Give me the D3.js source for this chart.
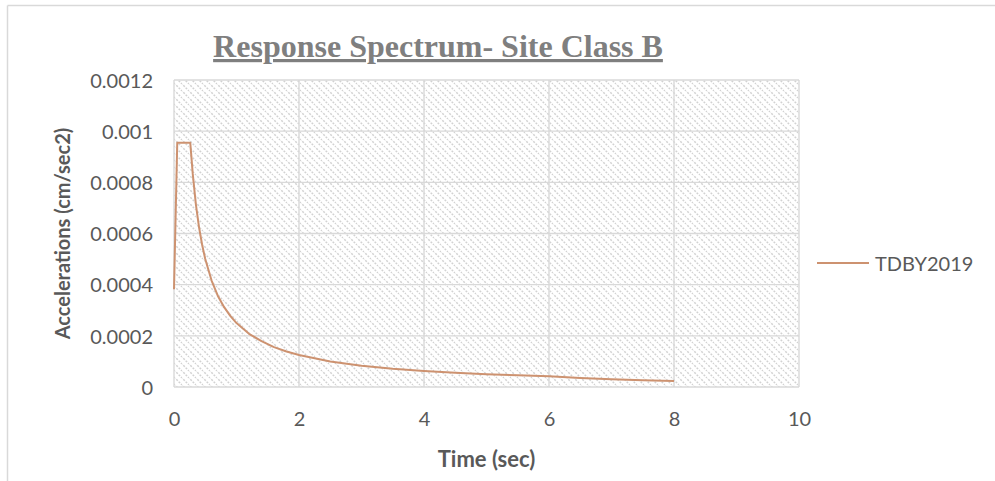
<!DOCTYPE html>
<html>
<head>
<meta charset="utf-8">
<script src="https://cdn.jsdelivr.net/npm/d3@7"></script>
<style>
  html, body { margin: 0; padding: 0; background: #ffffff; }
  svg { display: block; }
</style>
</head>
<body>
<svg id="chart" width="995" height="481"></svg>
<script>
// ---- data ----
const periods = [0, 0.052, 0.26, 0.3, 0.35, 0.4, 0.45, 0.5, 0.6, 0.7, 0.8, 0.9, 1.0,
  1.2, 1.4, 1.6, 1.8, 2.0, 2.5, 3.0, 3.5, 4.0, 4.5, 5.0, 5.5, 6.0, 6.5, 7.0, 7.5, 8.0];
const accels = [0.000382, 0.000955, 0.000955, 0.000833, 0.000714, 0.000625, 0.000556,
  0.0005, 0.000417, 0.000357, 0.000313, 0.000278, 0.00025, 0.000208, 0.000179,
  0.000156, 0.000139, 0.000125, 0.0001, 0.0000833, 0.0000714, 0.0000625, 0.0000556,
  0.00005, 0.0000455, 0.0000417, 0.0000355, 0.0000306, 0.0000267, 0.0000234];
const seriesName = "TDBY2019";
const xTicks = [0, 2, 4, 6, 8, 10];
const yTicks = [0, 0.0002, 0.0004, 0.0006, 0.0008, 0.001, 0.0012];
const yTickLabels = ["0", "0.0002", "0.0004", "0.0006", "0.0008", "0.001", "0.0012"];
const titleText = "Response Spectrum- Site Class B";
const xTitle = "Time (sec)";
const yTitle = "Accelerations (cm/sec2)";

const svg = d3.select("#chart");
const W = 995, H = 481;
const plot = { left: 174, right: 799, top: 80, bottom: 387 };

const x = d3.scaleLinear().domain([0, 10]).range([plot.left, plot.right]);
const y = d3.scaleLinear().domain([0, 0.0012]).range([plot.bottom, plot.top]);

// hatch pattern
const defs = svg.append("defs");
const P = 7;
const pat = defs.append("pattern")
  .attr("id", "hatch").attr("patternUnits", "userSpaceOnUse")
  .attr("width", P).attr("height", P);
pat.append("rect").attr("width", P).attr("height", P).attr("fill", "#ffffff");
pat.append("path")
  .attr("d", `M-1,-1 L${P + 1},${P + 1} M${-P / 2 - 1},${P / 2 - 1} L${P / 2 + 1},${P + P / 2 + 1} M${P / 2 - 1},${-P / 2 - 1} L${P + P / 2 + 1},${P / 2 + 1}`)
  .attr("stroke", "#d2d2d2").attr("stroke-width", 1.5)
  .attr("stroke-dasharray", "2,1.3");

// outer chart border (top and left visible)
svg.append("line").attr("x1", 7.5).attr("x2", W).attr("y1", 5.5).attr("y2", 5.5)
  .attr("stroke", "#d9d9d9").attr("stroke-width", 1.5);
svg.append("line").attr("x1", 7.5).attr("x2", 7.5).attr("y1", 5.5).attr("y2", H)
  .attr("stroke", "#d9d9d9").attr("stroke-width", 1.5);

// plot area background
svg.append("rect")
  .attr("x", plot.left).attr("y", plot.top)
  .attr("width", plot.right - plot.left).attr("height", plot.bottom - plot.top)
  .attr("fill", "url(#hatch)");

// gridlines
const grid = svg.append("g").attr("stroke", "#d9d9d9").attr("stroke-width", 1.4);
grid.selectAll(".gy").data(yTicks).join("line")
  .attr("x1", plot.left).attr("x2", plot.right)
  .attr("y1", d => y(d)).attr("y2", d => y(d));
grid.selectAll(".gx").data(xTicks).join("line")
  .attr("y1", plot.top).attr("y2", plot.bottom)
  .attr("x1", d => x(d)).attr("x2", d => x(d));

// axes (labels only)
const font = "Lato, 'Noto Sans', sans-serif";
const xAxis = d3.axisBottom(x).tickValues(xTicks).tickSize(0).tickPadding(0)
  .tickFormat(d3.format("d"));
const gx = svg.append("g").attr("transform", `translate(0,${plot.bottom})`).call(xAxis);
gx.select(".domain").remove();
gx.selectAll("text").attr("font-family", font).attr("font-size", 20)
  .attr("fill", "#595959").attr("dy", null).attr("y", 38.5);

const yAxis = d3.axisLeft(y).tickValues(yTicks).tickSize(0).tickPadding(0)
  .tickFormat((d, i) => yTickLabels[i]);
const gy = svg.append("g").attr("transform", `translate(${plot.left},0)`).call(yAxis);
gy.select(".domain").remove();
gy.selectAll("text").attr("font-family", font).attr("font-size", 20)
  .attr("fill", "#595959").attr("x", -21).attr("dy", "0.36em");

// series line
const line = d3.line().x((d, i) => x(periods[i])).y((d, i) => y(accels[i]));
svg.append("path")
  .datum(accels)
  .attr("d", line)
  .attr("fill", "none")
  .attr("stroke", "#cd9270")
  .attr("stroke-width", 2)
  .attr("stroke-linejoin", "round");

// title
svg.append("text")
  .attr("x", 438).attr("y", 57)
  .attr("text-anchor", "middle")
  .attr("font-family", "'Liberation Serif', 'Times New Roman', serif")
  .attr("font-weight", "bold").attr("font-size", 32)
  .attr("fill", "#7f7f7f")
  .style("text-decoration", "underline")
  .text(titleText);

// axis titles
svg.append("text")
  .attr("x", (plot.left + plot.right) / 2).attr("y", 467)
  .attr("text-anchor", "middle")
  .attr("font-family", font).attr("font-weight", "bold").attr("font-size", 22)
  .attr("fill", "#595959")
  .text(xTitle);
svg.append("text")
  .attr("transform", `translate(70,${(plot.top + plot.bottom) / 2}) rotate(-90)`)
  .attr("text-anchor", "middle")
  .attr("font-family", font).attr("font-weight", "bold").attr("font-size", 20)
  .attr("fill", "#595959")
  .text(yTitle);

// legend
const lg = svg.append("g");
lg.append("line").attr("x1", 817).attr("x2", 869).attr("y1", 263).attr("y2", 263)
  .attr("stroke", "#cd9270").attr("stroke-width", 2);
lg.append("text").attr("x", 875).attr("y", 270.5)
  .attr("font-family", font).attr("font-size", 20).attr("fill", "#595959")
  .text(seriesName);
</script>
</body>
</html>
